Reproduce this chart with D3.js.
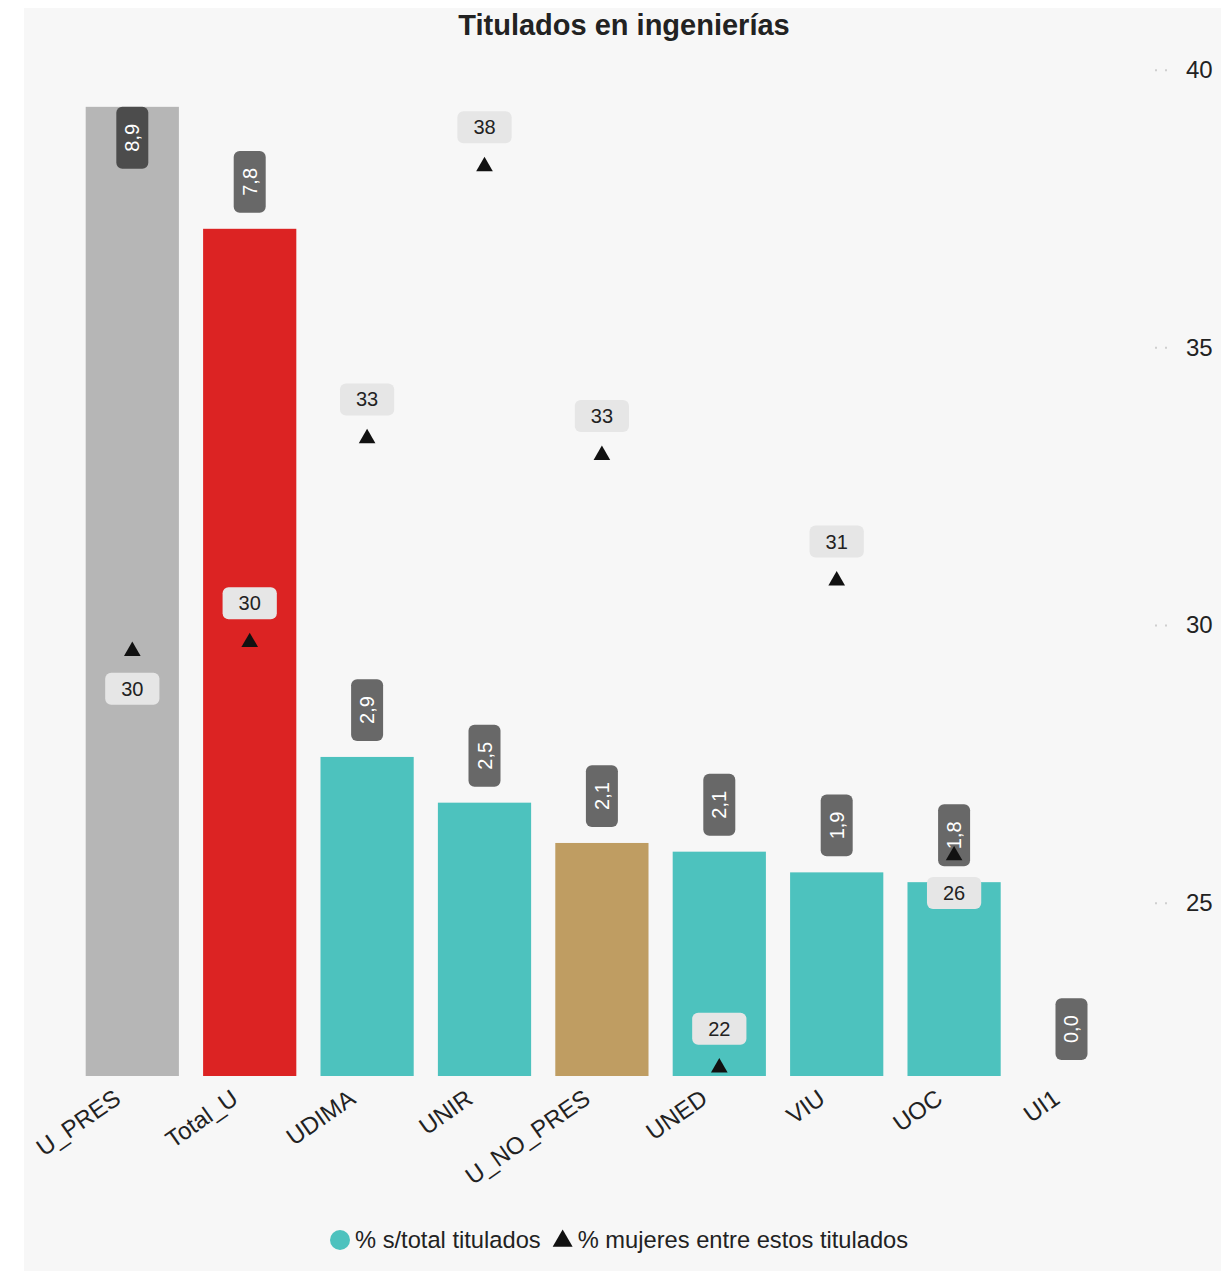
<!DOCTYPE html>
<html><head><meta charset="utf-8">
<script src="https://cdn.jsdelivr.net/npm/d3@7"></script>
<style>
body{margin:0;background:#fff;}
svg{display:block;font-family:"Liberation Sans",Arial,Helvetica,sans-serif;}
</style>
</head><body>
<svg id="c" width="1221" height="1271"></svg>
<script>
// ---- data ----
const categories = ["U_PRES","Total_U","UDIMA","UNIR","U_NO_PRES","UNED","VIU","UOC","UI1"];
const pctTitulados = [8.9, 7.78, 2.93, 2.51, 2.14, 2.06, 1.87, 1.78, 0.0];
const pctMujeres = [29.53, 29.69, 33.36, 38.26, 33.06, 22.03, 30.80, 25.85, null];
const rightTicks = [25, 30, 35, 40];
const seriesNames = ["% s/total titulados", "% mujeres entre estos titulados"];
const chartTitle = "Titulados en ingenierías";

// ---- styles ----
const barColors = ["#b6b6b6","#dc2323","#4dc2be","#4dc2be","#bf9d62","#4dc2be","#4dc2be","#4dc2be","#4dc2be"];
const mujLabelSide = ["below","above","above","above","above","above","above","below","above"];
const teal = "#4dc2be", ink = "#222";

const svg = d3.select("#c");

// panel background
svg.append("rect").attr("x",24).attr("y",8).attr("width",1221-24).attr("height",1271-8).attr("fill","#f7f7f7");

// scales
const x = d3.scaleBand().domain(categories).range([85.7,1118.1]).paddingInner(0.206).paddingOuter(0);
const yL = d3.scaleLinear().domain([0,9.5]).range([1076,41.5]);
const yR = d3.scaleLinear().domain([25,40]).range([902.7,69.7]);

// title
svg.append("text").attr("x",624).attr("y",35).attr("text-anchor","middle")
  .attr("font-size",29).attr("font-weight","bold").attr("fill",ink).text(chartTitle);

// bars
svg.append("g").selectAll("rect").data(categories).join("rect")
  .attr("x",d=>x(d)).attr("width",x.bandwidth())
  .attr("y",(d,i)=>yL(pctTitulados[i]))
  .attr("height",(d,i)=>yL(0)-yL(pctTitulados[i]))
  .attr("fill",(d,i)=>barColors[i]);

// bar value labels
const fmt1 = v => v.toFixed(1).replace(".", ",");
const barLab = svg.append("g");
categories.forEach((c,i)=>{
  const v = pctTitulados[i];
  const cx = x(c) + x.bandwidth()/2;
  const top = yL(v);
  const g = barLab.append("g");
  const t = g.append("text").attr("transform","rotate(-90)")
    .attr("text-anchor","middle").attr("dominant-baseline","central")
    .attr("font-size",20).attr("fill","#fff").text(fmt1(v));
  const len = t.node().getComputedTextLength() + 34;
  const outsideBottom = top - 16;
  const cy = (outsideBottom - len < yL.range()[1]) ? top + len/2 : outsideBottom - len/2;
  g.insert("rect","text").attr("x",-16).attr("y",-len/2).attr("width",32).attr("height",len)
    .attr("rx",6).attr("fill","rgba(0,0,0,0.58)");
  g.attr("transform",`translate(${cx},${cy})`);
});

// triangles
const tri = d3.symbol(d3.symbolTriangle, 120);
svg.append("g").selectAll("path").data(categories.filter((c,i)=>pctMujeres[i]!=null)).join("path")
  .attr("d",tri)
  .attr("transform",d=>{const i=categories.indexOf(d);return `translate(${x(d)+x.bandwidth()/2},${yR(pctMujeres[i])})`;})
  .attr("fill","#111");

// triangle labels
const triLab = svg.append("g");
categories.forEach((c,i)=>{
  const v = pctMujeres[i];
  if (v==null) return;
  const cx = x(c) + x.bandwidth()/2;
  const cy = yR(v) + (mujLabelSide[i]==="above" ? -39 : 37.6);
  const g = triLab.append("g").attr("transform",`translate(${cx},${cy})`);
  const t = g.append("text").attr("text-anchor","middle").attr("dominant-baseline","central")
    .attr("font-size",20).attr("fill",ink).text(d3.format(".0f")(v));
  const w = t.node().getComputedTextLength() + 32;
  g.insert("rect","text").attr("x",-w/2).attr("y",-16).attr("width",w).attr("height",32)
    .attr("rx",6).attr("fill","#e6e6e6");
});

// x axis
const xAxis = svg.append("g").attr("transform","translate(0,1076)")
  .call(d3.axisBottom(x).tickSize(0));
xAxis.select(".domain").remove();
xAxis.attr("font-family",null).attr("font-size",null);
xAxis.selectAll("text").attr("y",0).attr("dy",0)
  .attr("transform","translate(-10,26) rotate(-35)")
  .attr("text-anchor","end").attr("font-size",24).attr("fill",ink);

// right axis
const rAxis = svg.append("g").attr("transform","translate(1155,0)")
  .call(d3.axisRight(yR).tickValues(rightTicks).tickSize(14).tickPadding(17));
rAxis.select(".domain").remove();
rAxis.attr("font-family",null).attr("font-size",null);
rAxis.selectAll(".tick line").attr("stroke","#cfcfcf").attr("stroke-width",2).attr("stroke-dasharray","2 8");
rAxis.selectAll("text").attr("font-size",24).attr("fill",ink);

// legend
const lg = svg.append("g");
let lx = 330;
lg.append("circle").attr("cx",lx+10).attr("cy",1240).attr("r",10).attr("fill",teal);
const t1 = lg.append("text").attr("x",lx+25).attr("y",1248).attr("font-size",23.7).attr("fill",ink).text(seriesNames[0]);
lx = lx + 25 + t1.node().getComputedTextLength() + 12;
lg.append("path").attr("d",d3.symbol(d3.symbolTriangle,173)).attr("transform",`translate(${lx+10},1241)`).attr("fill","#111");
lg.append("text").attr("x",lx+25).attr("y",1248).attr("font-size",23.7).attr("fill",ink).text(seriesNames[1]);
</script>
</body></html>
